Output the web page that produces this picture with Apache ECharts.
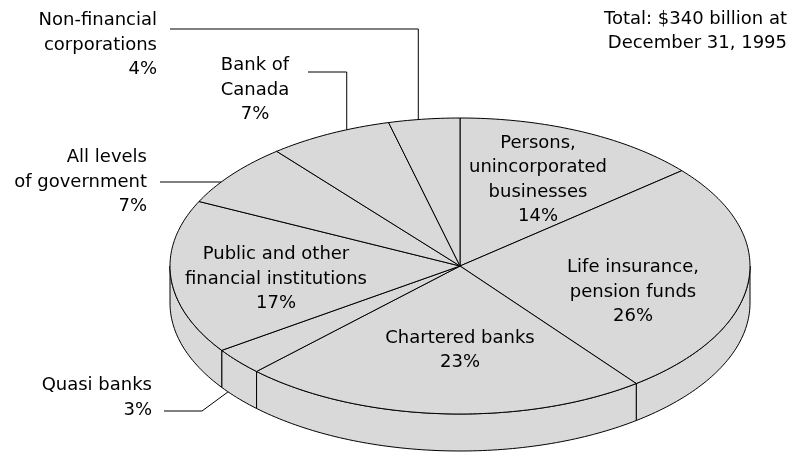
<!DOCTYPE html>
<html>
<head>
<meta charset="utf-8">
<script src="https://cdn.jsdelivr.net/npm/echarts@6/dist/echarts.min.js"></script>
<style>
html,body{margin:0;padding:0;background:#fff;}
#chart{width:791px;height:452px;}
</style>
</head>
<body>
<div id="chart"></div>
<script>
// ---- data ----
const categories = [
  'Persons,\nunincorporated\nbusinesses',
  'Life insurance,\npension funds',
  'Chartered banks',
  'Quasi banks',
  'Public and other\nfinancial institutions',
  'All levels\nof government',
  'Bank of\nCanada',
  'Non-financial\ncorporations'
];
const shares = [14, 26, 23, 3, 17, 7, 7, 4];
const noteLines = ['Total: $340 billion at', 'December 31, 1995'];

// ---- layout / style ----
const FONT = "18px 'DejaVu Sans', sans-serif";
const LH = 24.5;
const FILL = '#d9d9d9';
const CX = 460, CY = 266, RX = 290, RY = 148, DEPTH = 37;

function pt(deg, z) {
  const r = deg * Math.PI / 180;
  return [CX + RX * Math.sin(r), CY - RY * Math.cos(r) + (z || 0)];
}
function arcPts(a1, a2, z) {
  const n = Math.max(2, Math.ceil(Math.abs(a2 - a1)));
  const out = [];
  for (let i = 0; i <= n; i++) out.push(pt(a1 + (a2 - a1) * i / n, z));
  return out;
}

const labelLayout = [
  {x: 538, y: 180, align: 'center'},
  {x: 633, y: 292, align: 'center'},
  {x: 460, y: 350.5, align: 'center'},
  {x: 152, y: 398, align: 'right', leader: {frac: 0.8, z: DEPTH, path: p => [p, [202, 411], [164, 411]]}},
  {x: 276, y: 279, align: 'center'},
  {x: 147, y: 182, align: 'right', leader: {frac: 0.35, z: 0, path: p => [p, [160, p[1]]]}},
  {x: 255, y: 90, align: 'center', leader: {frac: 0.65, z: 0, path: p => [p, [p[0], 72], [308, 72]]}},
  {x: 157, y: 45, align: 'right', leader: {frac: 0.42, z: 0, path: p => [p, [p[0], 29], [170, 29]]}}
];

const total = shares.reduce((a, b) => a + b, 0);
const cum = [0];
shares.forEach(v => cum.push(cum[cum.length - 1] + v));

function renderItem(params, api) {
  const i = params.dataIndex;
  const val = api.value(0);
  const start = cum[i] / total * 360;
  const end = start + val / total * 360;
  const children = [];

  // side (front half only)
  const s = Math.max(start, 90), e = Math.min(end, 270);
  if (s < e) {
    children.push({
      type: 'polygon',
      shape: {points: arcPts(s, e, 0).concat(arcPts(e, s, DEPTH))},
      style: {fill: FILL, stroke: '#000', lineWidth: 1},
      z2: 1
    });
  }
  // top face
  children.push({
    type: 'polygon',
    shape: {points: [[CX, CY]].concat(arcPts(start, end, 0))},
    style: {fill: FILL, stroke: '#000', lineWidth: 1, lineJoin: 'miter'},
    z2: 2
  });

  const L = labelLayout[i];
  if (L.leader) {
    const a = start + (end - start) * L.leader.frac;
    const p = pt(a, L.leader.z);
    children.push({
      type: 'polyline',
      shape: {points: L.leader.path(p)},
      style: {fill: null, stroke: '#000', lineWidth: 1},
      z2: 5
    });
  }
  children.push({
    type: 'text',
    style: {
      text: categories[i] + '\n' + val + '%',
      x: L.x, y: L.y,
      align: L.align, verticalAlign: 'middle',
      font: FONT, lineHeight: LH, fill: '#000'
    },
    z2: 10
  });
  return {type: 'group', children: children};
}

const chart = echarts.init(document.getElementById('chart'), null, {renderer: 'canvas'});
chart.setOption({
  animation: false,
  backgroundColor: '#fff',
  series: [{
    type: 'custom',
    coordinateSystem: 'none',
    renderItem: renderItem,
    data: shares.map((v, i) => ({value: [v], name: categories[i]}))
  }],
  graphic: [{
    type: 'text',
    style: {
      text: noteLines.join('\n'),
      x: 787, y: 31.5,
      align: 'right', verticalAlign: 'middle',
      font: FONT, lineHeight: LH, fill: '#000'
    }
  }]
});
</script>
</body>
</html>
